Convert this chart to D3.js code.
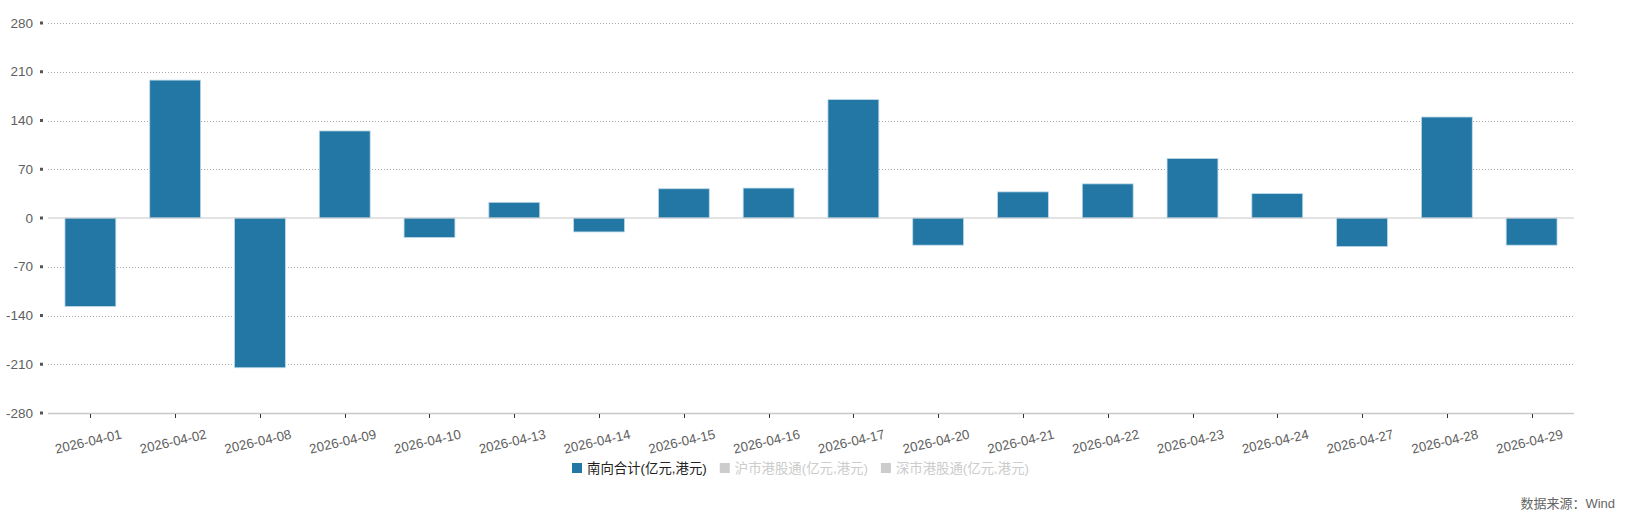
<!DOCTYPE html>
<html>
<head>
<meta charset="utf-8">
<script src="https://cdn.jsdelivr.net/npm/d3@7"></script>
<style>
  html, body { margin: 0; padding: 0; background: #fff; }
  svg { display: block; font-family: "Liberation Sans", Arial, "Noto Sans CJK SC", sans-serif; }
</style>
</head>
<body>
<svg id="chart" width="1629" height="515"></svg>
<script>
const categories = ["2026-04-01","2026-04-02","2026-04-08","2026-04-09","2026-04-10","2026-04-13","2026-04-14","2026-04-15","2026-04-16","2026-04-17","2026-04-20","2026-04-21","2026-04-22","2026-04-23","2026-04-24","2026-04-27","2026-04-28","2026-04-29"];
const southboundTotal = [-127, 198, -215, 125, -28, 22.5, -20, 42, 43, 170, -39, 37.5, 49, 85.5, 35, -41, 145, -39];
const yTicks = [280, 210, 140, 70, 0, -70, -140, -210, -280];
const legendItems = ["南向合计(亿元,港元)", "沪市港股通(亿元,港元)", "深市港股通(亿元,港元)"];
const sourceText = "数据来源：Wind";

(function () {
const svg = d3.select("#chart");
const plotLeft = 48, plotRight = 1574, plotTop = 23, plotBottom = 413;

const x = d3.scaleBand().domain(categories).range([plotLeft, plotRight]).paddingInner(0.4).paddingOuter(0.2);
const y = d3.scaleLinear().domain([-280, 280]).range([plotBottom, plotTop]);

// gridlines
svg.append("g").selectAll("line")
  .data(yTicks.filter(d => d !== 0 && d !== -280))
  .join("line")
  .attr("x1", plotLeft).attr("x2", plotRight)
  .attr("y1", d => Math.round(y(d)) + 0.5).attr("y2", d => Math.round(y(d)) + 0.5)
  .attr("stroke", "#a8a8a8").attr("stroke-width", 1).attr("stroke-dasharray", "1,2");

// bottom axis line
svg.append("line")
  .attr("x1", plotLeft).attr("x2", plotRight)
  .attr("y1", Math.round(y(-280)) + 0.5).attr("y2", Math.round(y(-280)) + 0.5)
  .attr("stroke", "#c8c8c8").attr("stroke-width", 1.5);

// y tick squares and labels
const yg = svg.append("g");
yg.selectAll("rect").data(yTicks).join("rect")
  .attr("x", 40).attr("y", d => y(d) - 1.5).attr("width", 3).attr("height", 3)
  .attr("fill", "#555");
yg.selectAll("text").data(yTicks).join("text")
  .attr("x", 33).attr("y", d => y(d)).attr("dy", "0.35em")
  .attr("text-anchor", "end").attr("font-size", 13.5).attr("fill", "#606060")
  .text(d => d);

// x ticks and labels
const xg = svg.append("g");
xg.selectAll("line").data(categories).join("line")
  .attr("x1", d => Math.round(x(d) + x.bandwidth() / 2) + 0.5)
  .attr("x2", d => Math.round(x(d) + x.bandwidth() / 2) + 0.5)
  .attr("y1", plotBottom + 1).attr("y2", plotBottom + 5)
  .attr("stroke", "#333").attr("stroke-width", 1);
xg.selectAll("text").data(categories).join("text")
  .attr("transform", d => `translate(${x(d) + x.bandwidth() / 2 - 1},${446}) rotate(-13)`)
  .attr("text-anchor", "middle").attr("font-size", 13.3).attr("fill", "#606060")
  .text(d => d);

// bars
svg.append("g").selectAll("rect").data(categories).join("rect")
  .attr("x", d => x(d))
  .attr("width", x.bandwidth())
  .attr("y", (d, i) => y(Math.max(0, southboundTotal[i])))
  .attr("height", (d, i) => Math.abs(y(southboundTotal[i]) - y(0)))
  .attr("fill", "#2277a5")
  .attr("stroke", "#bcd9e8").attr("stroke-width", 0.8);

// zero line
svg.append("line")
  .attr("x1", plotLeft).attr("x2", plotRight)
  .attr("y1", y(0)).attr("y2", y(0))
  .attr("stroke", "#c8c8c8").attr("stroke-width", 1.2);

// legend (laid out by measured text widths)
const lg = svg.append("g");
let lx = 572;
legendItems.forEach((t, i) => {
  lg.append("rect").attr("x", lx).attr("y", 463).attr("width", 10).attr("height", 10)
    .attr("fill", i === 0 ? "#2277a5" : "#cccccc");
  const txt = lg.append("text").attr("x", lx + 15).attr("y", 468).attr("dy", "0.36em")
    .attr("font-size", 13.4).attr("fill", i === 0 ? "#222" : "#cccccc")
    .text(t);
  const w = txt.node().getComputedTextLength();
  lx = lx + 15 + w + 13;
});

// source
svg.append("text").attr("x", 1615).attr("y", 503).attr("dy", "0.35em")
  .attr("text-anchor", "end").attr("font-size", 13).attr("fill", "#666")
  .text(sourceText);
})();
</script>
</body>
</html>
